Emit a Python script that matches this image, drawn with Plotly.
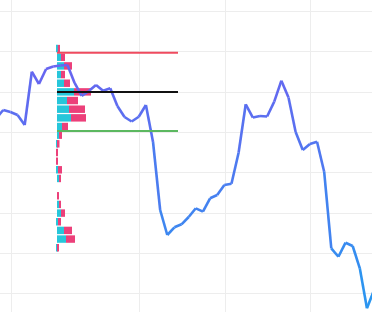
import plotly.graph_objects as go

# ---- price line (index -> price) ----
line_index = list(range(-1, 53))
line_price = [143.58, 145.56, 145.06, 144.32, 141.85, 155.04, 152.00, 155.71, 156.33, 156.58,
              156.70, 152.25, 149.03, 150.26, 151.75, 150.34, 150.93, 146.55, 143.83, 142.71,
              143.90, 146.80, 137.64, 120.80, 114.61, 116.51, 117.26, 119.06, 121.22, 120.38,
              123.70, 124.51, 126.99, 127.31, 134.99, 146.97, 143.70, 144.07, 143.95, 147.62,
              152.82, 148.65, 140.11, 135.66, 137.14, 137.71, 130.28, 111.31, 109.23, 112.70,
              111.88, 106.36, 96.46, 100.99]

# ---- volume profile (rows top -> bottom) ----
row_top_price = 161.84
row_height = 2.144
up_volume = [0.8, 4, 7, 4, 7, 17, 10, 12, 14, 5, 2, 0.7,
             0, 0, 1, 2, 0, 0, 2, 4, 1, 7, 9, 1]
down_volume = [2.2, 4, 8, 4, 6, 17, 11, 16, 15, 6, 3, 1.8,
               0.7, 1, 4, 2, 0, 2, 2, 4, 3, 8, 9, 1]
profile_start = 7.53
profile_end = 24.5
vah_price = 159.72
poc_price = 150.02
val_price = 140.36

# ---- grid ----
x_grid = [1.178, 19.07, 31.19, 43.11]
y_grid = [100, 110, 120, 130, 140, 150, 160, 170]

units_per_volume = 1 / 7.13  # x index units per volume unit

fig = go.Figure()

# gradient line as segments (colour by price level)
vmin, vmax = min(line_price), max(line_price)
top_c = (104, 100, 240)
bot_c = (40, 152, 240)
for i in range(len(line_index) - 1):
    m = (line_price[i] + line_price[i + 1]) / 2
    t = (m - vmin) / (vmax - vmin)
    c = tuple(round(bot_c[k] + (top_c[k] - bot_c[k]) * t) for k in range(3))
    fig.add_trace(go.Scatter(
        x=line_index[i:i + 2], y=line_price[i:i + 2], mode="lines",
        line=dict(color=f"rgb{c}", width=2.6), hoverinfo="skip", showlegend=False))

# value area lines
for p, col in [(vah_price, "#ef4b5f"), (poc_price, "#111111"), (val_price, "#5cb860")]:
    fig.add_trace(go.Scatter(x=[profile_start, profile_end], y=[p, p], mode="lines",
                             line=dict(color=col, width=2), showlegend=False, hoverinfo="skip"))

centers = [row_top_price - row_height * (k + 0.5) for k in range(len(up_volume))]
up_w = [v * units_per_volume for v in up_volume]
down_w = [v * units_per_volume for v in down_volume]

fig.add_trace(go.Bar(
    y=centers, x=up_w, base=[profile_start] * len(centers), orientation="h",
    width=row_height * 0.86, marker=dict(color="#26c6da", line=dict(width=0)),
    showlegend=False))
fig.add_trace(go.Bar(
    y=centers, x=down_w, base=[profile_start + w for w in up_w], orientation="h",
    width=row_height * 0.86, marker=dict(color="#ec407a", line=dict(width=0)),
    showlegend=False))

fig.update_layout(
    width=372, height=312, autosize=False,
    margin=dict(l=0, r=0, t=0, b=0),
    paper_bgcolor="white", plot_bgcolor="white",
    barmode="overlay", showlegend=False,
    xaxis=dict(range=[-0.463, 51.71], tickmode="array", tickvals=x_grid,
               showticklabels=False, showgrid=True, gridcolor="#ededed", gridwidth=1,
               zeroline=False, showline=False, ticks=""),
    yaxis=dict(range=[95.54, 172.8], tickmode="array", tickvals=y_grid,
               showticklabels=False, showgrid=True, gridcolor="#ededed", gridwidth=1,
               zeroline=False, showline=False, ticks=""),
)

fig.write_html("out.html")
